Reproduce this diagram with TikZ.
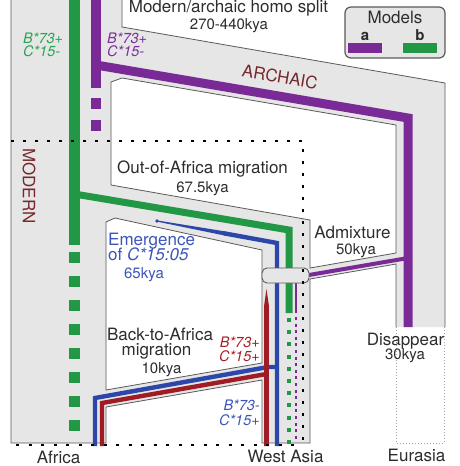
\documentclass[tikz,border=0pt]{standalone}
\usepackage{fontspec}
\setmainfont{TeX Gyre Heros}
\definecolor{bandgrey}{HTML}{E6E6E6}
\definecolor{edgegrey}{HTML}{5A5A5A}
\definecolor{cgreen}{RGB}{34,152,70}
\definecolor{cpurple}{RGB}{122,42,150}
\definecolor{cblue}{RGB}{45,70,170}
\definecolor{cred}{RGB}{160,28,36}
\definecolor{tblue}{RGB}{60,85,185}
\definecolor{tred}{RGB}{170,30,40}
\definecolor{tgreen}{RGB}{40,165,80}
\definecolor{tpurple}{RGB}{125,45,155}
\definecolor{maroon}{RGB}{120,40,45}
\definecolor{txt}{RGB}{45,45,45}
\begin{document}
\begin{tikzpicture}[x=1pt,y=-1pt,
  big/.style={inner sep=0pt, anchor=base, text=txt, font=\fontsize{17}{19}\selectfont},
  kya/.style={inner sep=0pt, anchor=base, text=txt, font=\fontsize{15}{17}\selectfont},
  geno/.style={inner sep=0pt, font=\fontsize{14.5}{16}\selectfont\itshape},
  dotline/.style={black, line width=1.5pt, dash pattern=on 3pt off 9pt},
  band/.style={line join=miter}]
\clip (0,0) rectangle (459,466);
\fill[white] (0,0) rectangle (459,466);

% grey regions
\fill[bandgrey, even odd rule]
 (11,-3) -- (122,-3) -- (122,27) -- (445,83) -- (445,327) -- (396,327) -- (396,264) -- (310,279) -- (310,443) -- (262,443) -- (262,380) -- (106,407) -- (106,443) -- (11,443) -- cycle
 (111,82) -- (122,78) -- (396,125) -- (396,253) -- (310,268) -- (310,220) -- (111,185) -- cycle
 (106,222) -- (115,218) -- (262,250) -- (262,363) -- (106,390) -- cycle;
\draw[edgegrey, line width=0.8pt]
 (396,327) -- (396,264) -- (310,279) -- (310,443) -- (262,443) -- (262,380) -- (106,407) -- (106,443) -- (11,443) -- (11,-3)
 (122,-3) -- (122,27) -- (445,83) -- (445,327)
 (111,82) -- (122,78) -- (396,125) -- (396,253) -- (310,268) -- (310,220) -- (111,185) -- cycle
 (106,222) -- (115,218) -- (262,250) -- (262,363) -- (106,390) -- cycle;
\draw[gray!70, line width=0.8pt, dash pattern=on 1pt off 2pt] (396,327) -- (396,443) -- (444,443) -- (444,327);

% named coordinates
\coordinate (pTop) at (96,-3);
\coordinate (pJoin) at (96,65);
\coordinate (pEnd) at (96,88);
\coordinate (pCorner) at (408,118);
\coordinate (pEur) at (408,327);
\coordinate (gTop) at (74.5,-3);
\coordinate (gJoin) at (74.5,194);
\coordinate (gEnd) at (74.5,245);
\coordinate (gCorner) at (289,230);
\coordinate (gWA) at (289,313);
\coordinate (bDot) at (157,221);
\coordinate (bMid) at (224,233.3);
\coordinate (bCorner) at (277,243);
\coordinate (bBot) at (277,446);
\coordinate (bAfBot) at (95,446);
\coordinate (bAfCorner) at (95,398);
\coordinate (bCross) at (268,367);
\coordinate (bStub) at (277,367);
\coordinate (rAfBot) at (102,446);
\coordinate (rAfCorner) at (102,403);
\coordinate (rJoin) at (266.5,374);
\coordinate (admA) at (408,258);
\coordinate (admB) at (309,275);
\coordinate (pwTop) at (296,280);
\coordinate (pwMid) at (296,313);

% purple (model a)
\draw[cpurple, line width=10pt] (pTop) -- (pEnd);
\draw[cpurple, line width=10pt, dash pattern=on 11pt off 11pt] (96,98) -- (96,131);
\draw[cpurple, line width=9pt, band] (pJoin) -- (pCorner) -- (pEur);

% green (model b)
\draw[cgreen, line width=11pt] (gTop) -- (gEnd);
\draw[cgreen, line width=11pt, dash pattern=on 11pt off 13pt] (74.5,252) -- (74.5,432);
\draw[cgreen, line width=7pt, band] (gJoin) -- (gCorner) -- (gWA);
\draw[cgreen, line width=4pt, dash pattern=on 4pt off 8.2pt] (289,318) -- (289,444);

% blue
\fill[cblue] (157,220.4) -- (225,231.4) -- (225,235.6) -- (157,221.6) -- cycle;
\fill[cblue] (bDot) circle (1.8);
\draw[cblue, line width=4.4pt, band] (bMid) -- (bCorner) -- (bBot);
\draw[cblue, line width=4.4pt, band] (bAfBot) -- (bAfCorner) -- (bCross) -- (bStub);

% red
\draw[cred, line width=4.4pt, band] (rAfBot) -- (rAfCorner) -- (rJoin);
\fill[cred] (264.2,446) -- (264.2,305) -- (266.5,289) -- (268.8,305) -- (268.8,446) -- cycle;

% admixture purple
\draw[cpurple, line width=4pt] (admA) -- (admB);
\draw[cpurple, line width=2.8pt] (pwTop) -- (pwMid);
\draw[cpurple, line width=2.8pt, dash pattern=on 3pt off 3.6pt] (296,317) -- (296,441);

% pill
\draw[fill=bandgrey, draw=edgegrey, line width=0.9pt, rounded corners=5pt] (262,268) rectangle (309,283);

% dotted frames
\draw[dotline] (11,141) -- (303,141) -- (303,440);
\draw[black, line width=1.5pt, dash pattern=on 3pt off 9.5pt] (16,445) -- (303,445);

% legend
\draw[fill=bandgrey, draw=edgegrey, line width=1.2pt, rounded corners=6pt] (345,7) rectangle (445,58);
\node[big] (models) at (395,23) {Models};
\node[inner sep=0pt, anchor=base, text=txt, font=\fontsize{15}{17}\selectfont\bfseries] (la) at (365,40) {a};
\node[inner sep=0pt, anchor=base, text=txt, font=\fontsize{15}{17}\selectfont\bfseries] (lb) at (420,40) {b};
\fill[cpurple] (348,43) rectangle (382,53);
\fill[cgreen] (403,43) rectangle (437,53);

% texts
\node[big] (split) at (228.5,12) {Modern/archaic homo split};
\node[kya] (splitk) at (229,29) {270-440kya};
\node[geno, anchor=base west, text=tgreen] (g1) at (23,43) {B*73+};
\node[geno, anchor=base west, text=tgreen] (g2) at (23,56) {C*15-};
\node[geno, anchor=base west, text=tpurple] (p1) at (107,43) {B*73+};
\node[geno, anchor=base west, text=tpurple] (p2) at (107,56) {C*15-};
\node[inner sep=0pt, rotate=-9.7, text=maroon, font=\fontsize{17}{19}\selectfont] (archaic) at (280,77) {ARCHAIC};
\node[inner sep=0pt, rotate=-90, text=maroon, font=\fontsize{17}{19}\selectfont] (modern) at (29,186) {MODERN};
\node[big] (ooa) at (202.5,173) {Out-of-Africa migration};
\node[kya] (ooak) at (202.5,192) {67.5kya};
\node[big, anchor=base west, text=tblue] (em1) at (108,245) {Emergence};
\node[big, anchor=base west, text=tblue] (em2) at (108,260) {of \textit{C*15:05}};
\node[kya, text=tblue] (em3) at (144,278) {65kya};
\node[big] (adm) at (352.5,238) {Admixture};
\node[kya] (admk) at (356,254) {50kya};
\node[big] (bta1) at (160,340) {Back-to-Africa};
\node[big] (bta2) at (156.5,355) {migration};
\node[kya] (bta3) at (161.5,373) {10kya};
\node[geno, anchor=base east, text=tred] (r1) at (260,347) {B*73+};
\node[geno, anchor=base east, text=tred] (r2) at (260,361) {C*15+};
\node[geno, anchor=base east, text=tblue] (b1) at (260,410) {B*73-};
\node[geno, anchor=base east, text=tblue] (b2) at (260,425) {C*15+};
\node[big] (dis) at (405.5,345) {Disappear};
\node[kya] (disk) at (405,359) {30kya};
\node[big] (africa) at (58.5,463) {Africa};
\node[big] (wasia) at (285.5,462) {West Asia};
\node[big] (eurasia) at (416.5,461) {Eurasia};
\end{tikzpicture}
\end{document}
